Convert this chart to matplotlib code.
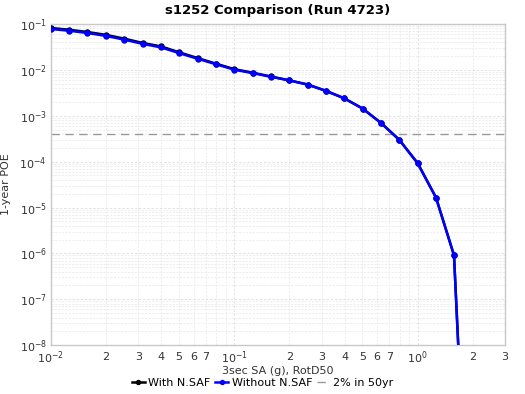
import numpy as np
import matplotlib.pyplot as plt
from matplotlib.ticker import LogLocator, FuncFormatter, NullFormatter

# spectral acceleration levels (g), 3 sec, RotD50
sa = [0.01, 0.0126, 0.0158, 0.02, 0.0251, 0.0316, 0.0398, 0.0501, 0.0631, 0.0794,
      0.1, 0.126, 0.158, 0.2, 0.251, 0.316, 0.398, 0.501, 0.631, 0.794,
      1.0, 1.26, 1.58, 2.0]

# 1-year probability of exceedance
poe_with = [0.082, 0.075, 0.067, 0.058, 0.048, 0.0388, 0.0325, 0.0242, 0.0181, 0.0137,
            0.0104, 0.0087, 0.0072, 0.0059, 0.0048, 0.0035, 0.0024, 0.00144, 0.00070, 0.00030,
            9.3e-5, 1.65e-5, 9.1e-7, 2e-15]
poe_without = [0.078, 0.0714, 0.0637, 0.055, 0.0457, 0.037, 0.031, 0.0232, 0.0175, 0.0133,
               0.0101, 0.0085, 0.0071, 0.0059, 0.0048, 0.0035, 0.0024, 0.00144, 0.00070, 0.00030,
               9.3e-5, 1.65e-5, 9.1e-7, 2e-15]

# 2% in 50 years -> annual POE
poe_2in50 = 1 - (1 - 0.02) ** (1 / 50.0)

plt.rcParams['font.family'] = ['DejaVu Sans']

fig = plt.figure(figsize=(5.25, 3.94), dpi=100)
ax = fig.add_axes([0.097, 0.124, 0.865, 0.815])

ax.plot(sa, poe_with, color='black', lw=1.8, marker='o', ms=3.6, label='With N.SAF', zorder=3)
ax.plot(sa, poe_without, color='#0000ff', lw=1.8, marker='o', ms=3.6, label='Without N.SAF', zorder=4)
ax.axhline(poe_2in50, color='#999999', lw=1, ls=(0, (6, 4)), label='2% in 50yr', zorder=2)

ax.set_xscale('log')
ax.set_yscale('log')
ax.set_xlim(0.01, 3)
ax.set_ylim(1e-8, 1e-1)

ax.grid(True, which='major', color='#dddddd', ls=(0, (3, 2)), lw=0.6)
ax.grid(True, which='minor', color='#e6e6e6', ls=(0, (3, 2)), lw=0.5)

def log_lab(v, pos):
    e = int(round(np.log10(v)))
    return r'$\mathregular{10^{%d}}$' % e

def minor_lab(v, pos):
    e = np.floor(np.log10(v) + 1e-9)
    m = int(round(v / 10 ** e))
    return str(m) if m <= 7 else ''

ax.xaxis.set_major_locator(LogLocator(base=10))
ax.xaxis.set_major_formatter(FuncFormatter(log_lab))
ax.xaxis.set_minor_locator(LogLocator(base=10, subs=np.arange(2, 10)))
ax.xaxis.set_minor_formatter(FuncFormatter(minor_lab))
ax.yaxis.set_major_locator(LogLocator(base=10, numticks=12))
ax.yaxis.set_major_formatter(FuncFormatter(log_lab))
ax.yaxis.set_minor_locator(LogLocator(base=10, subs=np.arange(2, 10), numticks=12))
ax.yaxis.set_minor_formatter(NullFormatter())

ax.tick_params(which='both', length=0, labelsize=8, colors='#333333', pad=3)
ax.tick_params(axis='x', which='minor', labelsize=8, pad=5)
ax.tick_params(axis='x', which='major', pad=3)

for s in ax.spines.values():
    s.set_color('#c8c8c8')
    s.set_linewidth(1)

ax.set_title('s1252 Comparison (Run 4723)', fontsize=9.5, fontweight='bold', pad=7)
ax.set_xlabel('3sec SA (g), RotD50', fontsize=8, color='#333333')
ax.xaxis.set_label_coords(0.5, -0.064)
ax.set_ylabel('1-year POE', fontsize=8, color='#333333', labelpad=6)

fig.legend(loc='center', ncol=3, fontsize=8, frameon=False,
           bbox_to_anchor=(0.5, 0.027), handlelength=1.2, handletextpad=0.3,
           columnspacing=0.4, markerscale=0.8, borderpad=0.1)

fig.savefig('out.png', dpi=100)
